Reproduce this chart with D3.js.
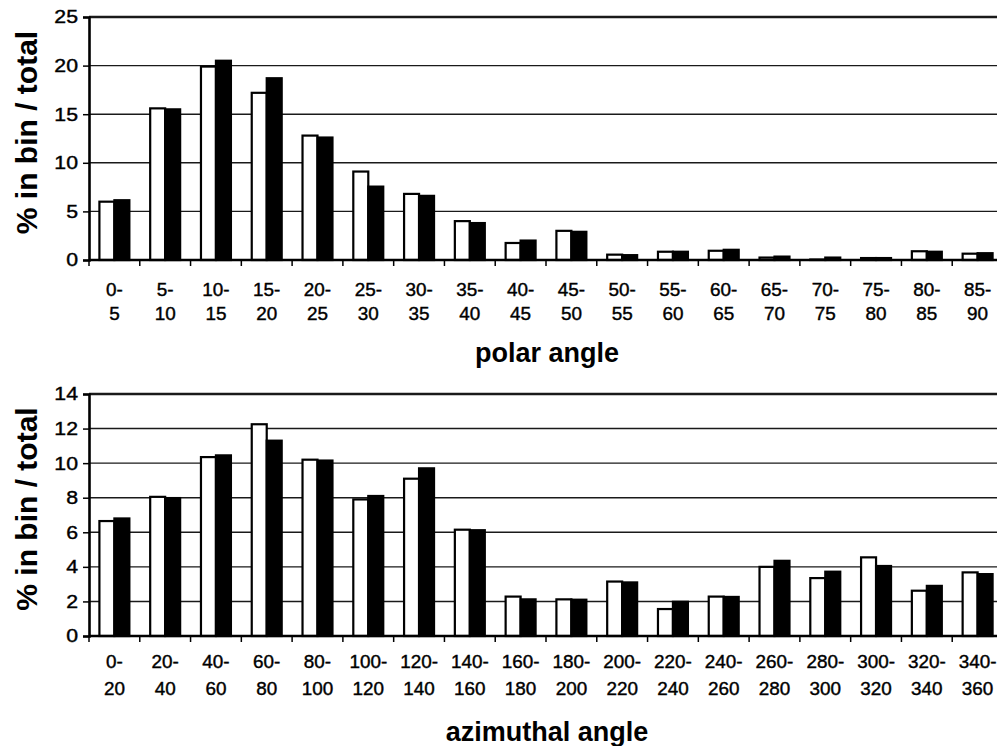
<!DOCTYPE html>
<html>
<head>
<meta charset="utf-8">
<script src="https://cdn.jsdelivr.net/npm/d3@7"></script>
<style>
  html, body { margin: 0; padding: 0; background: #fff; }
  svg { display: block; font-family: "Liberation Sans", Arial, Helvetica, sans-serif; }
</style>
</head>
<body>
<div id="chart"></div>
<script>
// Polar angle histogram (bins of 5 degrees)
const polarBins = ["0-5", "5-10", "10-15", "15-20", "20-25", "25-30", "30-35", "35-40", "40-45",
    "45-50", "50-55", "55-60", "60-65", "65-70", "70-75", "75-80", "80-85", "85-90"];
const polarOpen = [6.0, 15.6, 19.9, 17.2, 12.8, 9.1, 6.8, 4.0, 1.75, 3.0, 0.55, 0.85, 0.95, 0.25, 0.05, 0.2, 0.9, 0.65];
const polarFilled = [6.15, 15.5, 20.5, 18.7, 12.6, 7.55, 6.6, 3.8, 2.0, 2.9, 0.5, 0.85, 1.05, 0.35, 0.25, 0.2, 0.85, 0.7];
const polarTicks = [0, 5, 10, 15, 20, 25];

// Azimuthal angle histogram (bins of 20 degrees)
const aziBins = ["0-20", "20-40", "40-60", "60-80", "80-100", "100-120", "120-140", "140-160", "160-180",
    "180-200", "200-220", "220-240", "240-260", "260-280", "280-300", "300-320", "320-340", "340-360"];
const aziOpen = [6.65, 8.05, 10.35, 12.25, 10.2, 7.9, 9.1, 6.15, 2.28, 2.12, 3.15, 1.56, 2.28, 4.0, 3.35, 4.55, 2.62, 3.68];
const aziFilled = [6.8, 7.98, 10.45, 11.3, 10.15, 8.1, 9.7, 6.12, 2.12, 2.1, 3.1, 1.98, 2.26, 4.35, 3.72, 4.05, 2.9, 3.58];
const aziTicks = [0, 2, 4, 6, 8, 10, 12, 14];

const svg = d3.select("#chart")
    .append("svg")
    .attr("width", 997)
    .attr("height", 746);

function drawPanel(opts) {
    const { bins, open, filled, ticks, top, bottom, left, right, labelY, title, titleY } = opts;

    const x = d3.scaleBand()
        .domain(bins)
        .range([left, right])
        .paddingInner(0.41)
        .paddingOuter(0.205);
    const step = x.step();
    const sub = d3.scaleBand()
        .domain(["open", "filled"])
        .range([0, x.bandwidth()]);
    const y = d3.scaleLinear()
        .domain([0, d3.max(ticks)])
        .range([bottom, top]);

    const g = svg.append("g");

    // gridlines (top one is the heavy frame line)
    g.append("g")
        .selectAll("line")
        .data(ticks.filter(t => t > 0))
        .join("line")
        .attr("x1", left)
        .attr("x2", right)
        .attr("y1", d => y(d))
        .attr("y2", d => y(d))
        .style("stroke", "#1a1a1a")
        .style("stroke-width", (d, i, n) => i === n.length - 1 ? 2.6 : 1.4);

    // bars
    const rows = bins.map((b, i) => ({ bin: b, open: open[i], filled: filled[i] }));
    const groups = g.append("g")
        .selectAll("g")
        .data(rows)
        .join("g")
        .attr("transform", d => `translate(${x(d.bin)},0)`);

    groups.selectAll("rect")
        .data(d => [{ key: "open", v: d.open }, { key: "filled", v: d.filled }])
        .join("rect")
        .attr("x", d => sub(d.key))
        .attr("y", d => y(d.v))
        .attr("width", sub.bandwidth())
        .attr("height", d => y(0) - y(d.v))
        .style("fill", d => d.key === "open" ? "#fff" : "#000")
        .style("stroke", "#000")
        .style("stroke-width", 2.2);

    // y axis
    const yAxis = g.append("g")
        .attr("transform", `translate(${left},0)`)
        .call(d3.axisLeft(y).tickValues(ticks).tickSize(6).tickPadding(5).tickFormat(d3.format("d")));
    yAxis.select(".domain").style("stroke", "#000").style("stroke-width", 2.6);
    yAxis.selectAll(".tick line").style("stroke", "#000").style("stroke-width", 1.5);
    yAxis.selectAll(".tick text")
        .style("font-size", "18.5px")
        .style("fill", "#000")
        .style("stroke", "#000")
        .style("stroke-width", 0.4)
        .attr("transform", "scale(1.15,1)")
        .attr("x", -11 / 1.15);

    // x axis: ticks at bin boundaries
    const bounds = d3.range(bins.length + 1).map(i => left + i * step);
    g.append("line")
        .attr("x1", left).attr("x2", right)
        .attr("y1", y(0)).attr("y2", y(0))
        .style("stroke", "#000").style("stroke-width", 2.6);
    g.append("g")
        .selectAll("line")
        .data(bounds)
        .join("line")
        .attr("x1", d => d).attr("x2", d => d)
        .attr("y1", y(0)).attr("y2", y(0) + 6)
        .style("stroke", "#000").style("stroke-width", 1.5);

    // two-line category labels
    const labels = g.append("g")
        .selectAll("text")
        .data(bins)
        .join("text")
        .attr("text-anchor", "middle")
        .attr("transform", d => `translate(${x(d) + x.bandwidth() / 2},0) scale(1.05,1)`)
        .style("font-size", "18px")
        .style("fill", "#000")
        .style("stroke", "#000")
        .style("stroke-width", 0.4);
    labels.append("tspan")
        .attr("x", 0).attr("y", labelY[0])
        .text(d => d.split("-")[0] + "-");
    labels.append("tspan")
        .attr("x", 0).attr("y", labelY[1])
        .text(d => d.split("-")[1]);

    // axis titles
    g.append("text")
        .attr("text-anchor", "middle")
        .attr("x", 547)
        .attr("y", titleY)
        .style("font-size", "27px")
        .style("font-weight", "bold")
        .text(title);

    g.append("text")
        .attr("text-anchor", "middle")
        .attr("transform", `translate(37,${(top + bottom) / 2 - 6}) rotate(-90)`)
        .style("font-size", "30px")
        .style("font-weight", "bold")
        .text("% in bin / total");
}

drawPanel({
    bins: polarBins, open: polarOpen, filled: polarFilled, ticks: polarTicks,
    top: 17, bottom: 260, left: 89, right: 1003,
    labelY: [296, 320], title: "polar angle", titleY: 362
});

drawPanel({
    bins: aziBins, open: aziOpen, filled: aziFilled, ticks: aziTicks,
    top: 394, bottom: 636, left: 89, right: 1003,
    labelY: [668, 695], title: "azimuthal angle", titleY: 741
});
</script>
</body>
</html>
